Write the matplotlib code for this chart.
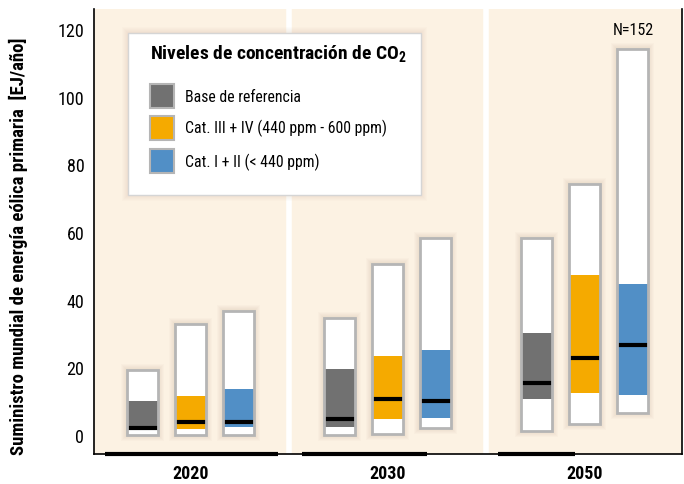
import matplotlib
matplotlib.use('Agg')
import matplotlib.pyplot as plt
from matplotlib.patches import Rectangle

plt.rcParams['font.family'] = ['Roboto Condensed', 'Liberation Sans Narrow', 'Roboto', 'DejaVu Sans']
plt.rcParams['mathtext.fontset'] = 'custom'
plt.rcParams['mathtext.rm'] = 'Roboto Condensed'
plt.rcParams['mathtext.bf'] = 'Roboto Condensed:bold'

# data (EJ/año)
years = ['2020', '2030', '2050']
categories = ['Base de referencia',
              'Cat. III + IV (440 ppm - 600 ppm)',
              'Cat. I + II (< 440 ppm)']
colors = ['#717171', '#f5aa00', '#518fc6']

base_min = [0.0, 0.0, 1.1]
base_p25 = [1.5, 2.5, 10.7]
base_med = [2.2, 4.8, 15.4]
base_p75 = [10.1, 19.5, 30.2]
base_max = [19.3, 34.6, 58.3]

cat34_min = [0.0, 0.3, 3.3]
cat34_p25 = [1.8, 4.7, 12.5]
cat34_med = [4.0, 10.7, 22.8]
cat34_p75 = [11.5, 23.4, 47.3]
cat34_max = [32.8, 50.6, 74.1]

cat12_min = [0.0, 2.2, 6.4]
cat12_p25 = [2.5, 5.0, 11.8]
cat12_med = [3.9, 10.2, 26.7]
cat12_p75 = [13.6, 25.1, 44.7]
cat12_max = [36.7, 58.1, 114.2]

series = [
    (base_min, base_p25, base_med, base_p75, base_max),
    (cat34_min, cat34_p25, cat34_med, cat34_p75, cat34_max),
    (cat12_min, cat12_p25, cat12_med, cat12_p75, cat12_max),
]

bg = '#fcf2e3'
edge = '#b5b5b5'

fig = plt.figure(figsize=(6.84, 4.85), dpi=100)
ax = fig.add_axes([94 / 684, 30 / 485, 588 / 684, 445 / 485])
ax.set_facecolor(bg)
ax.set_xlim(-0.49, 2.495)
ax.set_ylim(-5.6, 125.9)

# panel separators
for xs in [0.5, 1.5]:
    ax.axvline(xs, color='white', lw=4, zorder=1)

offsets = [-0.244, 0.0, 0.244]
width = 0.157
px_x = 1 / 197.0   # one pixel in x data units
px_y = 1 / 3.383   # one pixel in y data units

for i, (mn, p25, med, p75, mx) in enumerate(series):
    for j in range(len(years)):
        x0 = j + offsets[i] - width / 2
        # soft shadow
        for k in range(1, 7):
            ax.add_patch(Rectangle((x0 - k * px_x, mn[j] - k * px_y),
                                   width + 2 * k * px_x,
                                   mx[j] - mn[j] + 2 * k * px_y,
                                   facecolor='#a88a68', edgecolor='none',
                                   alpha=0.03, zorder=2))
        ax.add_patch(Rectangle((x0, mn[j]), width, mx[j] - mn[j],
                               facecolor='white', edgecolor='none', zorder=3))
        ax.add_patch(Rectangle((x0, p25[j]), width, p75[j] - p25[j],
                               facecolor=colors[i], edgecolor='none', zorder=4))
        ax.hlines(med[j], x0, x0 + width, color='black', lw=3, zorder=5)
        ax.add_patch(Rectangle((x0, mn[j]), width, mx[j] - mn[j],
                               facecolor='none', edgecolor=edge, lw=2, zorder=6))

# axes styling
ax.spines['top'].set_visible(False)
for s in ['left', 'right', 'bottom']:
    ax.spines[s].set_color('black')
    ax.spines[s].set_linewidth(1.2)
ax.set_yticks([0, 20, 40, 60, 80, 100, 120])
ax.set_xticks(range(len(years)))
ax.set_xticklabels(years, fontweight='bold', fontsize=13)
ax.tick_params(axis='both', length=0, labelsize=13)
ax.tick_params(axis='x', pad=7)
ax.tick_params(axis='y', pad=7)
ax.set_ylabel('Suministro mundial de energía eólica primaria  [EJ/año]',
              fontweight='bold', fontsize=13.5)
ax.yaxis.set_label_coords(-0.112, 0.47)

# thick segments on the bottom line
for a, b in [(0.019, 0.313), (0.354, 0.566), (0.687, 0.818)]:
    ax.plot([a, b], [0, 0], color='black', lw=3, transform=ax.transAxes,
            clip_on=False, zorder=7, solid_capstyle='butt')

ax.text(0.918, 0.955, 'N=152', transform=ax.transAxes, fontsize=11.5,
        ha='center', va='center')

# legend box
for k in range(1, 7):
    ax.add_patch(Rectangle((0.058 - k * 0.0017, 0.582 - k * 0.0022),
                           0.498 + 2 * k * 0.0017, 0.364 + 2 * k * 0.0022,
                           transform=ax.transAxes, facecolor='#a88a68',
                           edgecolor='none', alpha=0.025, zorder=8))
ax.add_patch(Rectangle((0.058, 0.582), 0.498, 0.364, transform=ax.transAxes,
                       facecolor='white', edgecolor='#d5d5d5', lw=1, zorder=9))
ax.text(0.095, 0.9, r'Niveles de concentración de CO$_\mathbf{2}$',
        transform=ax.transAxes, fontsize=14, fontweight='bold',
        ha='left', va='center', zorder=10)
for yc, lab, c in zip([0.804, 0.733, 0.658], categories, colors):
    ax.add_patch(Rectangle((0.095, yc - 0.027), 0.041, 0.054,
                           transform=ax.transAxes, facecolor=c,
                           edgecolor=edge, lw=1.5, zorder=10))
    ax.text(0.155, yc, lab, transform=ax.transAxes, fontsize=11.3,
            ha='left', va='center', zorder=10)

fig.savefig('out.png', dpi=100)
